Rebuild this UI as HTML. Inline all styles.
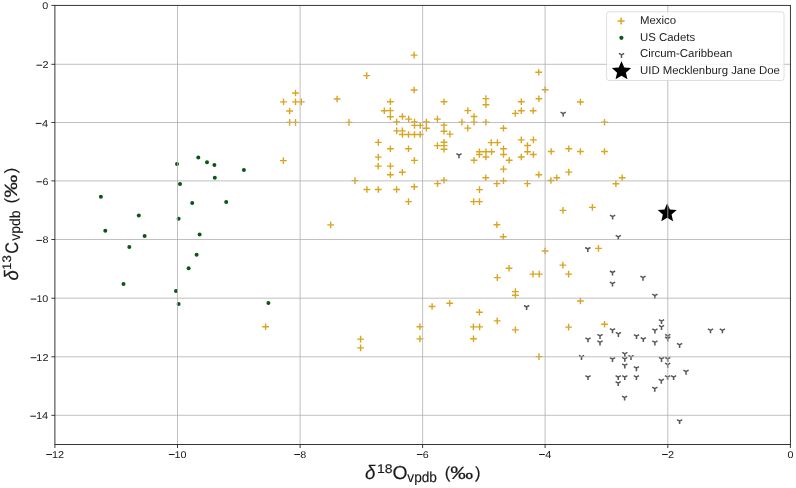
<!DOCTYPE html><html><head><meta charset="utf-8"><style>
html,body{margin:0;padding:0;background:#fff;width:796px;height:488px;overflow:hidden;}
svg{display:block;font-family:"Liberation Sans",sans-serif;text-rendering:geometricPrecision;will-change:transform;}
</style></head><body>
<svg width="796" height="488" viewBox="0 0 796 488">
<rect width="796" height="488" fill="#fff"/>
<g fill="#0b5519">
<circle cx="177.0" cy="163.9" r="2.0"/>
<circle cx="198.3" cy="157.5" r="2.0"/>
<circle cx="207.0" cy="162.3" r="2.0"/>
<circle cx="214.4" cy="165.0" r="2.0"/>
<circle cx="243.9" cy="170.0" r="2.0"/>
<circle cx="214.8" cy="177.8" r="2.0"/>
<circle cx="180.0" cy="184.1" r="2.0"/>
<circle cx="100.9" cy="196.7" r="2.0"/>
<circle cx="192.2" cy="203.1" r="2.0"/>
<circle cx="226.2" cy="201.9" r="2.0"/>
<circle cx="138.8" cy="215.6" r="2.0"/>
<circle cx="178.6" cy="218.7" r="2.0"/>
<circle cx="105.3" cy="230.8" r="2.0"/>
<circle cx="144.6" cy="235.9" r="2.0"/>
<circle cx="199.6" cy="234.5" r="2.0"/>
<circle cx="129.3" cy="247.0" r="2.0"/>
<circle cx="196.6" cy="254.8" r="2.0"/>
<circle cx="188.6" cy="268.2" r="2.0"/>
<circle cx="123.5" cy="283.9" r="2.0"/>
<circle cx="176.0" cy="291.0" r="2.0"/>
<circle cx="178.6" cy="304.1" r="2.0"/>
<circle cx="268.4" cy="302.9" r="2.0"/>
</g>
<g stroke="#daa520" stroke-width="1.4" fill="none">
<path d="M410.7,55.1h6.8M414.1,51.8v6.6M363.3,75.6h6.8M366.7,72.3v6.6M292.1,93.0h6.8M295.5,89.7v6.6M410.7,90.0h6.8M414.1,86.7v6.6M280.1,101.9h6.8M283.5,98.6v6.6M292.1,101.9h6.8M295.5,98.6v6.6M297.9,101.9h6.8M301.3,98.6v6.6M333.7,99.0h6.8M337.1,95.7v6.6M286.2,111.0h6.8M289.6,107.7v6.6M286.2,122.4h6.8M289.6,119.1v6.6M292.1,122.4h6.8M295.5,119.1v6.6M345.6,122.4h6.8M349.0,119.1v6.6M387.0,101.7h6.8M390.4,98.4v6.6M380.9,110.8h6.8M384.3,107.5v6.6M387.0,110.6h6.8M390.4,107.3v6.6M387.0,116.8h6.8M390.4,113.5v6.6M399.0,116.5h6.8M402.4,113.2v6.6M405.3,119.1h6.8M408.7,115.8v6.6M393.3,122.0h6.8M396.7,118.7v6.6M411.1,122.0h6.8M414.5,118.7v6.6M411.1,125.4h6.8M414.5,122.1v6.6M416.8,125.4h6.8M420.2,122.1v6.6M423.0,122.0h6.8M426.4,118.7v6.6M423.0,128.3h6.8M426.4,125.0v6.6M393.3,130.9h6.8M396.7,127.6v6.6M399.0,130.9h6.8M402.4,127.6v6.6M399.0,134.5h6.8M402.4,131.2v6.6M405.1,134.5h6.8M408.5,131.2v6.6M411.1,134.5h6.8M414.5,131.2v6.6M416.8,134.5h6.8M420.2,131.2v6.6M440.6,101.7h6.8M444.0,98.4v6.6M434.0,119.1h6.8M437.4,115.8v6.6M440.6,125.1h6.8M444.0,121.8v6.6M440.6,131.3h6.8M444.0,128.0v6.6M446.5,134.1h6.8M449.9,130.8v6.6M458.5,122.1h6.8M461.9,118.8v6.6M464.4,110.6h6.8M467.8,107.3v6.6M464.4,128.1h6.8M467.8,124.8v6.6M440.6,142.3h6.8M444.0,139.0v6.6M434.0,145.6h6.8M437.4,142.3v6.6M440.6,145.6h6.8M444.0,142.3v6.6M440.6,149.2h6.8M444.0,145.9v6.6M374.9,142.4h6.8M378.3,139.1v6.6M387.0,148.8h6.8M390.4,145.5v6.6M405.1,148.8h6.8M408.5,145.5v6.6M374.9,157.1h6.8M378.3,153.8v6.6M411.0,160.4h6.8M414.4,157.1v6.6M482.5,98.6h6.8M485.9,95.3v6.6M482.5,104.8h6.8M485.9,101.5v6.6M535.5,98.8h6.8M538.9,95.5v6.6M517.9,101.7h6.8M521.3,98.4v6.6M517.9,110.8h6.8M521.3,107.5v6.6M511.9,113.4h6.8M515.3,110.1v6.6M529.8,110.8h6.8M533.2,107.5v6.6M470.6,116.5h6.8M474.0,113.2v6.6M470.6,122.3h6.8M474.0,119.0v6.6M482.5,122.3h6.8M485.9,119.0v6.6M500.1,128.3h6.8M503.5,125.0v6.6M487.8,142.6h6.8M491.2,139.3v6.6M494.0,142.6h6.8M497.4,139.3v6.6M517.9,139.9h6.8M521.3,136.6v6.6M530.0,139.9h6.8M533.4,136.6v6.6M524.1,145.5h6.8M527.5,142.2v6.6M524.1,151.7h6.8M527.5,148.4v6.6M476.0,151.7h6.8M479.4,148.4v6.6M482.5,151.7h6.8M485.9,148.4v6.6M488.2,151.7h6.8M491.6,148.4v6.6M476.0,154.5h6.8M479.4,151.2v6.6M482.5,157.0h6.8M485.9,153.7v6.6M500.1,148.8h6.8M503.5,145.5v6.6M500.1,154.5h6.8M503.5,151.2v6.6M505.8,160.2h6.8M509.2,156.9v6.6M517.9,157.0h6.8M521.3,153.7v6.6M530.0,154.5h6.8M533.4,151.2v6.6M470.6,160.3h6.8M474.0,157.0v6.6M535.3,72.2h6.8M538.7,68.9v6.6M541.8,89.8h6.8M545.2,86.5v6.6M577.0,102.0h6.8M580.4,98.7v6.6M601.1,122.3h6.8M604.5,119.0v6.6M547.8,151.5h6.8M551.2,148.2v6.6M565.4,148.8h6.8M568.8,145.5v6.6M577.0,151.5h6.8M580.4,148.2v6.6M601.1,151.5h6.8M604.5,148.2v6.6M280.0,160.6h6.8M283.4,157.3v6.6M374.8,166.1h6.8M378.2,162.8v6.6M387.0,166.1h6.8M390.4,162.8v6.6M387.0,174.8h6.8M390.4,171.5v6.6M399.0,172.3h6.8M402.4,169.0v6.6M351.6,180.6h6.8M355.0,177.3v6.6M363.5,189.5h6.8M366.9,186.2v6.6M374.9,189.5h6.8M378.3,186.2v6.6M393.2,189.5h6.8M396.6,186.2v6.6M410.9,186.7h6.8M414.3,183.4v6.6M405.1,201.6h6.8M408.5,198.3v6.6M434.1,183.6h6.8M437.5,180.3v6.6M440.6,180.2h6.8M444.0,176.9v6.6M327.3,224.9h6.8M330.7,221.6v6.6M500.1,169.1h6.8M503.5,165.8v6.6M482.4,177.8h6.8M485.8,174.5v6.6M500.1,180.8h6.8M503.5,177.5v6.6M493.5,183.6h6.8M496.9,180.3v6.6M524.0,183.6h6.8M527.4,180.3v6.6M535.4,174.7h6.8M538.8,171.4v6.6M476.1,189.6h6.8M479.5,186.3v6.6M470.2,201.6h6.8M473.6,198.3v6.6M476.1,201.6h6.8M479.5,198.3v6.6M493.5,224.8h6.8M496.9,221.5v6.6M547.5,180.5h6.8M550.9,177.2v6.6M565.4,172.1h6.8M568.8,168.8v6.6M553.4,177.7h6.8M556.8,174.4v6.6M618.8,177.8h6.8M622.2,174.5v6.6M612.5,183.7h6.8M615.9,180.4v6.6M559.6,210.4h6.8M563.0,207.1v6.6M589.0,207.4h6.8M592.4,204.1v6.6M499.9,236.7h6.8M503.3,233.4v6.6M541.7,251.0h6.8M545.1,247.7v6.6M595.1,248.4h6.8M598.5,245.1v6.6M559.5,265.1h6.8M562.9,261.8v6.6M505.6,268.2h6.8M509.0,264.9v6.6M493.9,277.6h6.8M497.3,274.3v6.6M529.6,274.1h6.8M533.0,270.8v6.6M535.8,274.1h6.8M539.2,270.8v6.6M565.2,274.1h6.8M568.6,270.8v6.6M512.0,291.6h6.8M515.4,288.3v6.6M512.0,295.2h6.8M515.4,291.9v6.6M446.3,303.2h6.8M449.7,299.9v6.6M476.0,312.3h6.8M479.4,309.0v6.6M493.8,320.9h6.8M497.2,317.6v6.6M470.0,326.9h6.8M473.4,323.6v6.6M476.2,326.9h6.8M479.6,323.6v6.6M512.0,329.9h6.8M515.4,326.6v6.6M470.1,338.7h6.8M473.5,335.4v6.6M535.6,356.6h6.8M539.0,353.3v6.6M577.0,301.0h6.8M580.4,297.7v6.6M565.2,327.1h6.8M568.6,323.8v6.6M601.1,324.3h6.8M604.5,321.0v6.6M262.2,326.8h6.8M265.6,323.5v6.6M357.2,339.1h6.8M360.6,335.8v6.6M357.2,347.9h6.8M360.6,344.6v6.6M416.5,326.8h6.8M419.9,323.5v6.6M416.5,338.9h6.8M419.9,335.6v6.6M428.7,306.5h6.8M432.1,303.2v6.6"/>
</g>
<g stroke="#585858" stroke-width="1.55" fill="none" stroke-linecap="butt">
<path d="M563.2,113.6v3.0M563.2,113.6l-2.60,-1.50M563.2,113.6l2.60,-1.50M459.0,155.2v3.0M459.0,155.2l-2.60,-1.50M459.0,155.2l2.60,-1.50M526.6,307.0v3.0M526.6,307.0l-2.60,-1.50M526.6,307.0l2.60,-1.50M612.6,216.6v3.0M612.6,216.6l-2.60,-1.50M612.6,216.6l2.60,-1.50M618.3,236.9v3.0M618.3,236.9l-2.60,-1.50M618.3,236.9l2.60,-1.50M587.8,249.0v3.0M587.8,249.0l-2.60,-1.50M587.8,249.0l2.60,-1.50M612.5,272.5v3.0M612.5,272.5l-2.60,-1.50M612.5,272.5l2.60,-1.50M612.5,283.6v3.0M612.5,283.6l-2.60,-1.50M612.5,283.6l2.60,-1.50M643.0,277.7v3.0M643.0,277.7l-2.60,-1.50M643.0,277.7l2.60,-1.50M654.9,295.6v3.0M654.9,295.6l-2.60,-1.50M654.9,295.6l2.60,-1.50M661.5,321.1v3.0M661.5,321.1l-2.60,-1.50M661.5,321.1l2.60,-1.50M661.5,326.9v3.0M661.5,326.9l-2.60,-1.50M661.5,326.9l2.60,-1.50M654.9,330.4v3.0M654.9,330.4l-2.60,-1.50M654.9,330.4l2.60,-1.50M612.5,330.2v3.0M612.5,330.2l-2.60,-1.50M612.5,330.2l2.60,-1.50M618.4,333.9v3.0M618.4,333.9l-2.60,-1.50M618.4,333.9l2.60,-1.50M600.0,335.9v3.0M600.0,335.9l-2.60,-1.50M600.0,335.9l2.60,-1.50M600.0,342.4v3.0M600.0,342.4l-2.60,-1.50M600.0,342.4l2.60,-1.50M588.0,339.3v3.0M588.0,339.3l-2.60,-1.50M588.0,339.3l2.60,-1.50M636.5,336.1v3.0M636.5,336.1l-2.60,-1.50M636.5,336.1l2.60,-1.50M643.3,339.1v3.0M643.3,339.1l-2.60,-1.50M643.3,339.1l2.60,-1.50M654.9,342.4v3.0M654.9,342.4l-2.60,-1.50M654.9,342.4l2.60,-1.50M667.7,335.8v3.0M667.7,335.8l-2.60,-1.50M667.7,335.8l2.60,-1.50M667.7,338.5v3.0M667.7,338.5l-2.60,-1.50M667.7,338.5l2.60,-1.50M679.6,344.9v3.0M679.6,344.9l-2.60,-1.50M679.6,344.9l2.60,-1.50M581.5,356.9v3.0M581.5,356.9l-2.60,-1.50M581.5,356.9l2.60,-1.50M612.5,359.1v3.0M612.5,359.1l-2.60,-1.50M612.5,359.1l2.60,-1.50M624.8,353.9v3.0M624.8,353.9l-2.60,-1.50M624.8,353.9l2.60,-1.50M624.8,358.8v3.0M624.8,358.8l-2.60,-1.50M624.8,358.8l2.60,-1.50M631.0,356.9v3.0M631.0,356.9l-2.60,-1.50M631.0,356.9l2.60,-1.50M624.8,365.4v3.0M624.8,365.4l-2.60,-1.50M624.8,365.4l2.60,-1.50M661.5,358.9v3.0M661.5,358.9l-2.60,-1.50M661.5,358.9l2.60,-1.50M667.7,358.8v3.0M667.7,358.8l-2.60,-1.50M667.7,358.8l2.60,-1.50M667.7,364.7v3.0M667.7,364.7l-2.60,-1.50M667.7,364.7l2.60,-1.50M636.4,368.2v3.0M636.4,368.2l-2.60,-1.50M636.4,368.2l2.60,-1.50M686.0,371.7v3.0M686.0,371.7l-2.60,-1.50M686.0,371.7l2.60,-1.50M588.0,377.1v3.0M588.0,377.1l-2.60,-1.50M588.0,377.1l2.60,-1.50M618.2,377.1v3.0M618.2,377.1l-2.60,-1.50M618.2,377.1l2.60,-1.50M624.8,377.1v3.0M624.8,377.1l-2.60,-1.50M624.8,377.1l2.60,-1.50M636.4,377.1v3.0M636.4,377.1l-2.60,-1.50M636.4,377.1l2.60,-1.50M618.2,383.1v3.0M618.2,383.1l-2.60,-1.50M618.2,383.1l2.60,-1.50M667.6,377.1v3.0M667.6,377.1l-2.60,-1.50M667.6,377.1l2.60,-1.50M673.6,377.1v3.0M673.6,377.1l-2.60,-1.50M673.6,377.1l2.60,-1.50M661.3,380.7v3.0M661.3,380.7l-2.60,-1.50M661.3,380.7l2.60,-1.50M654.8,388.7v3.0M654.8,388.7l-2.60,-1.50M654.8,388.7l2.60,-1.50M624.6,397.6v3.0M624.6,397.6l-2.60,-1.50M624.6,397.6l2.60,-1.50M679.6,421.1v3.0M679.6,421.1l-2.60,-1.50M679.6,421.1l2.60,-1.50M710.5,330.3v3.0M710.5,330.3l-2.60,-1.50M710.5,330.3l2.60,-1.50M722.4,330.3v3.0M722.4,330.3l-2.60,-1.50M722.4,330.3l2.60,-1.50"/>
</g>
<path d="M667.20,203.20 L664.50,209.48 L657.69,210.11 L662.83,214.62 L661.32,221.29 L667.20,217.80 L673.08,221.29 L671.57,214.62 L676.71,210.11 L669.90,209.48 Z" fill="#000"/>
<g stroke="#b0b0b0" stroke-width="0.8">
<line x1="177.5" y1="5.4" x2="177.5" y2="444.5"/>
<line x1="300.1" y1="5.4" x2="300.1" y2="444.5"/>
<line x1="422.6" y1="5.4" x2="422.6" y2="444.5"/>
<line x1="545.1" y1="5.4" x2="545.1" y2="444.5"/>
<line x1="667.8" y1="5.4" x2="667.8" y2="444.5"/>
<line x1="54.9" y1="64.3" x2="790.4" y2="64.3"/>
<line x1="54.9" y1="122.5" x2="790.4" y2="122.5"/>
<line x1="54.9" y1="180.9" x2="790.4" y2="180.9"/>
<line x1="54.9" y1="239.5" x2="790.4" y2="239.5"/>
<line x1="54.9" y1="298.2" x2="790.4" y2="298.2"/>
<line x1="54.9" y1="356.8" x2="790.4" y2="356.8"/>
<line x1="54.9" y1="415.3" x2="790.4" y2="415.3"/>
</g>
<g stroke="#222" stroke-width="0.9" fill="none">
<rect x="54.9" y="5.4" width="735.5" height="439.1"/>
<line x1="54.9" y1="444.5" x2="54.9" y2="448.0"/>
<line x1="177.5" y1="444.5" x2="177.5" y2="448.0"/>
<line x1="300.1" y1="444.5" x2="300.1" y2="448.0"/>
<line x1="422.6" y1="444.5" x2="422.6" y2="448.0"/>
<line x1="545.1" y1="444.5" x2="545.1" y2="448.0"/>
<line x1="667.8" y1="444.5" x2="667.8" y2="448.0"/>
<line x1="790.4" y1="444.5" x2="790.4" y2="448.0"/>
<line x1="54.9" y1="5.4" x2="51.4" y2="5.4"/>
<line x1="54.9" y1="64.3" x2="51.4" y2="64.3"/>
<line x1="54.9" y1="122.5" x2="51.4" y2="122.5"/>
<line x1="54.9" y1="180.9" x2="51.4" y2="180.9"/>
<line x1="54.9" y1="239.5" x2="51.4" y2="239.5"/>
<line x1="54.9" y1="298.2" x2="51.4" y2="298.2"/>
<line x1="54.9" y1="356.8" x2="51.4" y2="356.8"/>
<line x1="54.9" y1="415.3" x2="51.4" y2="415.3"/>
</g>
<g fill="#1a1a1a">
<rect x="46.29" y="454.00" width="5.7" height="1.0"/><text transform="translate(51.97,457.60) scale(1.100,1)" font-size="9.89">12</text>
<rect x="168.90" y="454.00" width="5.7" height="1.0"/><text transform="translate(174.59,457.50) scale(1.100,1)" font-size="9.75">10</text>
<rect x="294.33" y="454.00" width="5.7" height="1.0"/><text transform="translate(300.37,457.50) scale(1.100,1)" font-size="9.75">8</text>
<rect x="416.87" y="454.00" width="5.7" height="1.0"/><text transform="translate(422.83,457.50) scale(1.100,1)" font-size="9.75">6</text>
<rect x="539.06" y="454.00" width="5.7" height="1.0"/><text transform="translate(545.31,457.60) scale(1.100,1)" font-size="10.04">4</text>
<rect x="662.07" y="454.00" width="5.7" height="1.0"/><text transform="translate(668.03,457.60) scale(1.100,1)" font-size="9.89">2</text>
<text transform="translate(787.41,457.50) scale(1.100,1)" font-size="9.75">0</text>
<text transform="translate(42.35,9.30) scale(1.100,1)" font-size="9.75">0</text>
<rect x="36.45" y="64.70" width="5.7" height="1.0"/><text transform="translate(42.40,68.30) scale(1.100,1)" font-size="9.89">2</text>
<rect x="35.82" y="122.90" width="5.7" height="1.0"/><text transform="translate(42.08,126.50) scale(1.100,1)" font-size="10.04">4</text>
<rect x="36.44" y="181.30" width="5.7" height="1.0"/><text transform="translate(42.40,184.80) scale(1.100,1)" font-size="9.75">6</text>
<rect x="36.36" y="239.90" width="5.7" height="1.0"/><text transform="translate(42.40,243.40) scale(1.100,1)" font-size="9.75">8</text>
<rect x="30.70" y="298.60" width="5.7" height="1.0"/><text transform="translate(36.39,302.10) scale(1.100,1)" font-size="9.75">10</text>
<rect x="30.68" y="357.20" width="5.7" height="1.0"/><text transform="translate(36.37,360.80) scale(1.100,1)" font-size="9.89">12</text>
<rect x="30.28" y="415.70" width="5.7" height="1.0"/><text transform="translate(35.95,419.30) scale(1.100,1)" font-size="10.04">14</text>
<g stroke="#1a1a1a" stroke-width="0.15">
<text transform="translate(364.99,479.40) scale(0.952,1)" font-size="19.73" font-style="italic">δ</text>
<text transform="translate(376.95,472.58) scale(1.126,1)" font-size="12.44">18</text>
<text transform="translate(392.48,479.41) scale(1.029,1)" font-size="18.80">O</text>
<text transform="translate(407.33,481.72) scale(0.951,1)" font-size="14.37">vpdb</text>
<text transform="translate(444.65,477.72) scale(1.028,1)" font-size="16.30">(</text>
<text transform="translate(450.27,478.81) scale(1.286,1)" font-size="17.86">‰</text>
<text transform="translate(474.97,477.72) scale(1.028,1)" font-size="16.30">)</text>
<g transform="translate(0,279.8) rotate(-90)">
<text transform="translate(-0.60,18.01) scale(0.956,1)" font-size="19.46" font-style="italic">δ</text>
<text transform="translate(9.90,10.68) scale(1.069,1)" font-size="12.44">13</text>
<text transform="translate(26.09,17.72) scale(0.893,1)" font-size="18.23">C</text>
<text transform="translate(39.03,20.22) scale(0.977,1)" font-size="14.37">vpdb</text>
<text transform="translate(76.38,16.22) scale(1.005,1)" font-size="16.30">(</text>
<text transform="translate(82.17,17.31) scale(1.292,1)" font-size="17.86">‰</text>
<text transform="translate(106.58,16.22) scale(1.005,1)" font-size="16.30">)</text>
</g>
</g>
</g>
<rect x="606.6" y="11.8" width="177.4" height="68.7" rx="2.5" fill="#fff" fill-opacity="0.8" stroke="#d6d6d6" stroke-width="0.8"/>
<path d="M617.6,21.0h7M621.1,17.6v6.8" stroke="#daa520" stroke-width="1.5"/>
<circle cx="621.4" cy="37.8" r="2.1" fill="#0b5519"/>
<path d="M621.5,54.9v3M621.5,54.9l-2.6,-1.5M621.5,54.9l2.6,-1.5" stroke="#585858" stroke-width="1.5" fill="none"/>
<path d="M621.50,61.10 L618.77,67.44 L611.89,68.08 L617.08,72.64 L615.56,79.37 L621.50,75.85 L627.44,79.37 L625.92,72.64 L631.11,68.08 L624.23,67.44 Z" fill="#000"/>
<g font-size="11.4" fill="#222">
<text x="640" y="24.1">Mexico</text>
<text x="640" y="40.6">US Cadets</text>
<text x="640" y="57.1">Circum-Caribbean</text>
<text x="640" y="73.7">UID Mecklenburg Jane Doe</text>
</g>
</svg></body></html>
